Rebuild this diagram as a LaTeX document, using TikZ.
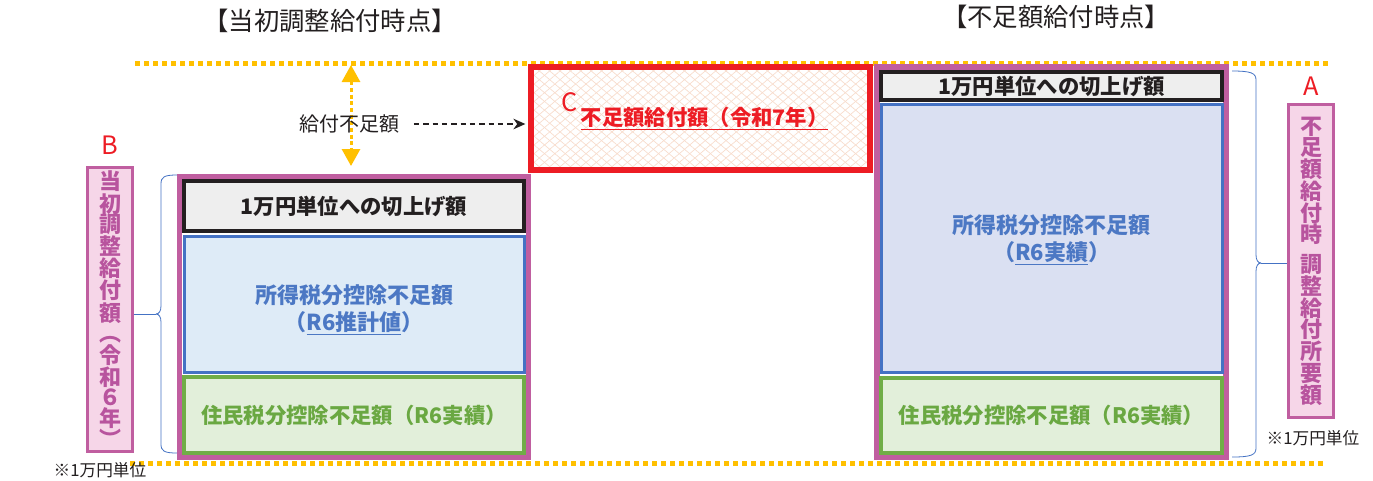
\documentclass[tikz,border=0pt]{standalone}
\usepackage{fontspec}
\setmainfont{Noto Sans CJK JP}
\usetikzlibrary{arrows.meta,patterns.meta}
\definecolor{pur}{RGB}{192,94,160}
\definecolor{pinkf}{RGB}{246,214,232}
\definecolor{vtext}{RGB}{184,84,158}
\definecolor{blk}{RGB}{35,31,32}
\definecolor{grayf}{RGB}{238,238,238}
\definecolor{blu}{RGB}{68,114,196}
\definecolor{blutext}{RGB}{76,120,196}
\definecolor{bluf1}{RGB}{222,235,247}
\definecolor{bluf2}{RGB}{218,224,242}
\definecolor{grn}{RGB}{112,173,71}
\definecolor{grnf}{RGB}{226,239,218}
\definecolor{grntext}{RGB}{106,168,66}
\definecolor{redc}{RGB}{237,28,36}
\definecolor{orng}{RGB}{255,192,0}
\definecolor{peach}{RGB}{248,220,204}
\definecolor{txt}{RGB}{35,31,32}
\begin{document}
\begin{tikzpicture}[x=0.75pt,y=-0.75pt,
  ttl/.style={font=\fontsize{19}{21}\selectfont, text=txt, inner sep=0pt},
  dotline/.style={draw=orng, line width=3.75pt, dash pattern=on 3.75pt off 3pt},
  purplebox/.style={draw=pur, line width=3.75pt, inner sep=0pt},
  blackbox/.style={draw=blk, fill=grayf, line width=3pt, inner sep=0pt,
     font=\fontsize{16}{20}\selectfont\bfseries, text=blk},
  bluebox/.style={draw=blu, line width=2.25pt, inner sep=0pt},
  bluetext/.style={align=center, inner sep=0pt,
     font=\fontsize{16.5}{20.5}\selectfont\bfseries, text=blutext},
  greenbox/.style={draw=grn, fill=grnf, line width=3pt, inner sep=0pt,
     font=\fontsize{16}{20}\selectfont\bfseries, text=grntext},
  redbox/.style={draw=redc, line width=4.5pt, inner sep=0pt,
     pattern={Lines[angle=40,distance=5pt,line width=0.5pt]}, pattern color=peach,
     preaction={pattern={Lines[angle=-40,distance=5pt,line width=0.5pt]}, pattern color=peach},
     font=\fontsize{16}{20}\selectfont\bfseries, text=redc},
  pinkbox/.style={draw=pur, fill=pinkf, line width=2.25pt, inner sep=0pt,
     align=center, text=vtext},
  letter/.style={font=\fontsize{19}{21}\selectfont, text=redc, inner sep=0pt},
  note/.style={font=\fontsize{12.5}{15}\selectfont, text=txt, inner sep=0pt},
  brc/.style={draw=blu, line width=0.6pt},
  yarr/.style={draw=orng, line width=2.25pt, dash pattern=on 3pt off 2pt,
     {Triangle[length=12.75pt,width=13.5pt,fill=orng]}-{Triangle[length=12.75pt,width=13.5pt,fill=orng]}},
  dasharr/.style={draw=blk, line width=0.9pt, dash pattern=on 4pt off 3pt,
     -{Stealth[length=9pt,width=8pt]}}
]
\useasboundingbox[fill=white] (0,0) rectangle (1373,480);

% titles
\node[ttl] (t1) at (330,21) {【当初調整給付時点】};
\node[ttl] (t2) at (1056,17) {【不足額給付時点】};

% dotted guide lines
\coordinate (tl1) at (135,63); \coordinate (tl2) at (1330,63);
\coordinate (bl1) at (130,463); \coordinate (bl2) at (1325,463);
\draw[dotline] (tl1) -- (tl2);
\draw[dotline] (bl1) -- (bl2);

% left stack
\node[purplebox, minimum width=261.75pt, minimum height=210.75pt] (LP) at (354,317) {};
\node[blackbox, minimum width=255pt, minimum height=37.5pt] (LK) at (354,206) {1万円単位への切上げ額};
\node[bluebox, fill=bluf1, minimum width=255pt, minimum height=102pt] (LB) at (354,304) {};
\node[bluetext] (LBt) at (354,310) {所得税分控除不足額\\（\underline{R6推計値}）};
\node[greenbox, minimum width=255pt, minimum height=57pt] (LG) at (354,415) {住民税分控除不足額（R6実績）};

% right stack
\node[purplebox, line width=4.5pt, minimum width=261.75pt, minimum height=292.5pt] (RP) at (1051.5,262) {};
\node[blackbox, minimum width=255.75pt, minimum height=21pt] (RK) at (1051.5,86) {1万円単位への切上げ額};
\node[bluebox, fill=bluf2, minimum width=255.75pt, minimum height=201pt] (RB) at (1051.5,238) {};
\node[bluetext] (RBt) at (1051.5,240) {所得税分控除不足額\\（\underline{R6実績}）};
\node[greenbox, minimum width=255.75pt, minimum height=56.25pt] (RG) at (1051.5,415.5) {住民税分控除不足額（R6実績）};

% red box C
\node[redbox, minimum width=254.25pt, minimum height=77.25pt] (C) at (700.5,118.5) {\hspace*{6pt}\raisebox{-1.5pt}{\underline{不足額給付額（令和7年）}}};
\node[letter] (Cl) at (570,102) {C};

% gap label and arrows
\coordinate (ytop) at (351,65);
\coordinate (ybot) at (351,166);
\draw[yarr] (ytop) -- (ybot);
\node[font=\fontsize{15}{18}\selectfont, text=txt, inner sep=0pt] (lbl) at (349,124) {給付不足額};
\draw[dasharr, shorten <=11pt, shorten >=4pt] (lbl.east) -- (C.west |- lbl.east);

% B box
\node[letter] (Bl) at (110,145) {B};
\node[pinkbox, minimum width=33.75pt, minimum height=213pt,
      font=\fontsize{16.5}{15.3}\selectfont\bfseries] (B) at (110,309.5)
  {当\\初\\調\\整\\給\\付\\額\\︵\\令\\和\\６\\年\\︶};

% A box
\node[letter] (Al) at (1311,86) {A};
\node[pinkbox, minimum width=33.75pt, minimum height=234.75pt,
      font=\fontsize{16.5}{16.3}\selectfont\bfseries] (A) at (1311,261)
  {不\\足\\額\\給\\付\\時\\[6pt]調\\整\\給\\付\\所\\要\\額};

% left brace
\coordinate (btip) at (156,314);
\draw[brc] (177,175) .. controls (164,175) and (161,177) .. (161,184) -- (161,306)
   .. controls (161,311) and (159,314) .. (btip);
\draw[brc] (177,453) .. controls (164,453) and (161,451) .. (161,444) -- (161,322)
   .. controls (161,317) and (159,314) .. (btip);
\draw[brc] (btip) -- (B.east |- btip);

% right brace
\coordinate (rtip) at (1261,263);
\draw[brc] (1232,71) .. controls (1251,71) and (1256,73) .. (1256,80) -- (1256,255)
   .. controls (1256,260) and (1258,263) .. (rtip);
\draw[brc] (1232,457) .. controls (1251,457) and (1256,455) .. (1256,448) -- (1256,271)
   .. controls (1256,266) and (1258,263) .. (rtip);
\draw[brc] (rtip) -- (A.west |- rtip);

% notes
\node[note] (n1) at (100,470) {※1万円単位};
\node[note] (n2) at (1313,438) {※1万円単位};
\end{tikzpicture}
\end{document}
